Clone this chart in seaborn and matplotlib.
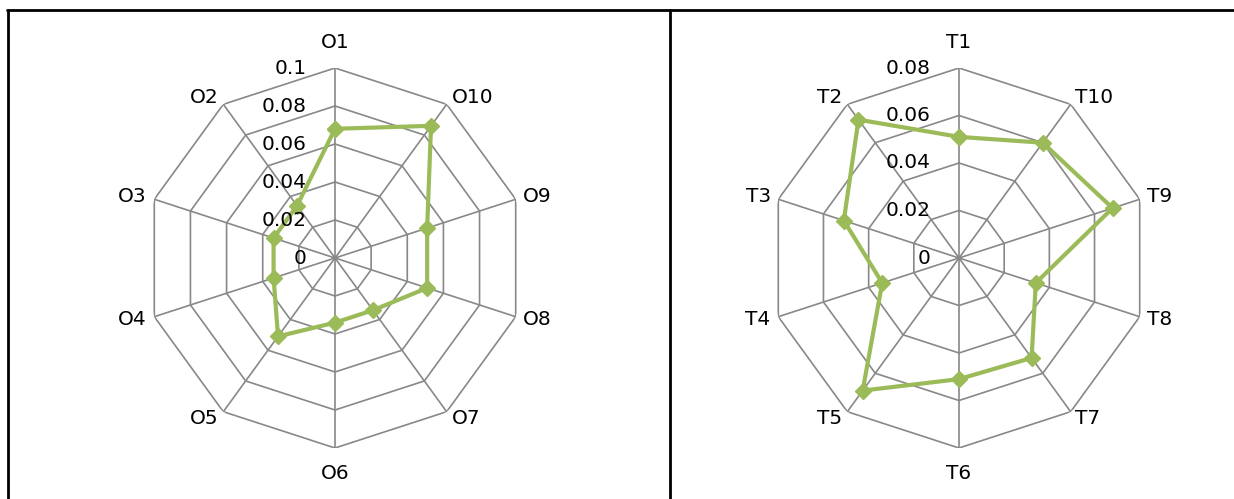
import numpy as np
import pandas as pd
import seaborn as sns
import matplotlib.pyplot as plt
from matplotlib.lines import Line2D

sns.set_style('white')
plt.rcParams['font.family'] = ['DejaVu Sans']

# values
o_labels = ['O1', 'O2', 'O3', 'O4', 'O5', 'O6', 'O7', 'O8', 'O9', 'O10']
o_values = [0.068, 0.034, 0.034, 0.034, 0.051, 0.034, 0.034, 0.051, 0.051, 0.086]
o_ticks = [0, 0.02, 0.04, 0.06, 0.08, 0.1]
o_tick_labels = ['0', '0.02', '0.04', '0.06', '0.08', '0.1']

t_labels = ['T1', 'T2', 'T3', 'T4', 'T5', 'T6', 'T7', 'T8', 'T9', 'T10']
t_values = [0.051, 0.072, 0.051, 0.034, 0.069, 0.051, 0.052, 0.034, 0.068, 0.060]
t_ticks = [0, 0.02, 0.04, 0.06, 0.08]
t_tick_labels = ['0', '0.02', '0.04', '0.06', '0.08']

GREEN = '#9BBB59'
GRID = '#888888'
W, H = 1234, 499
R = 190  # radius in px


def radar(fig, cx, cy, labels, values, ticks, tick_labels):
    ax = fig.add_axes([(cx - R) / W, (H - cy - R) / H, 2 * R / W, 2 * R / H],
                      projection='polar')
    ax.set_theta_offset(np.pi / 2)
    ax.set_facecolor('none')
    ax.grid(False)
    ax.spines['polar'].set_visible(False)
    ax.set_xticks([])
    ax.set_yticks([])
    rmax = ticks[-1]
    n = len(labels)
    theta = np.arange(n) * 2 * np.pi / n
    closed = np.append(theta, 2 * np.pi)

    # decagon rings and spokes
    for r in ticks[1:]:
        ax.plot(closed, [r] * (n + 1), color=GRID, lw=1.2, zorder=1)
    for t in theta:
        ax.plot([t, t], [0, rmax], color=GRID, lw=1.2, zorder=1)

    df = pd.DataFrame({'theta': closed, 'value': values + values[:1]})
    sns.lineplot(data=df, x='theta', y='value', sort=False, ax=ax, color=GREEN,
                 lw=3.0, marker='D', markersize=8.5, markeredgecolor=GREEN,
                 markeredgewidth=1, zorder=3)
    ax.set_xlabel('')
    ax.set_ylabel('')
    ax.set_ylim(0, rmax)

    # category labels outside the vertices
    for t, lab in zip(theta, labels):
        dx, dy = -np.sin(t), np.cos(t)
        if abs(dx) < 0.1:
            ha, off = 'center', (0, 18.7 * np.sign(dy))
        else:
            ha = 'left' if dx > 0 else 'right'
            off = (5.8 * dx, 5.8 * dy)
        ax.annotate(lab, xy=(t, rmax), xytext=off, textcoords='offset points',
                    ha=ha, va='center', fontsize=14.5, color='black')

    # value labels along the first spoke
    for r, lab in zip(ticks, tick_labels):
        ax.annotate(lab, xy=(0, r), xytext=(-20.2, 0), textcoords='offset points',
                    ha='right', va='center', fontsize=14.5, color='black')
    return ax


fig = plt.figure(figsize=(W / 100, H / 100), dpi=100)
fig.patch.set_facecolor('white')

radar(fig, 335, 258, o_labels, o_values, o_ticks, o_tick_labels)
radar(fig, 959, 258, t_labels, t_values, t_ticks, t_tick_labels)

# table borders around the two charts
fig.add_artist(Line2D([7 / W, 1], [1 - 10 / H, 1 - 10 / H], color='black', lw=2.0))
fig.add_artist(Line2D([8 / W, 8 / W], [0, 1 - 10 / H], color='black', lw=2.0))
fig.add_artist(Line2D([670 / W, 670 / W], [0, 1 - 10 / H], color='black', lw=2.0))

fig.savefig('out.png', dpi=100)
